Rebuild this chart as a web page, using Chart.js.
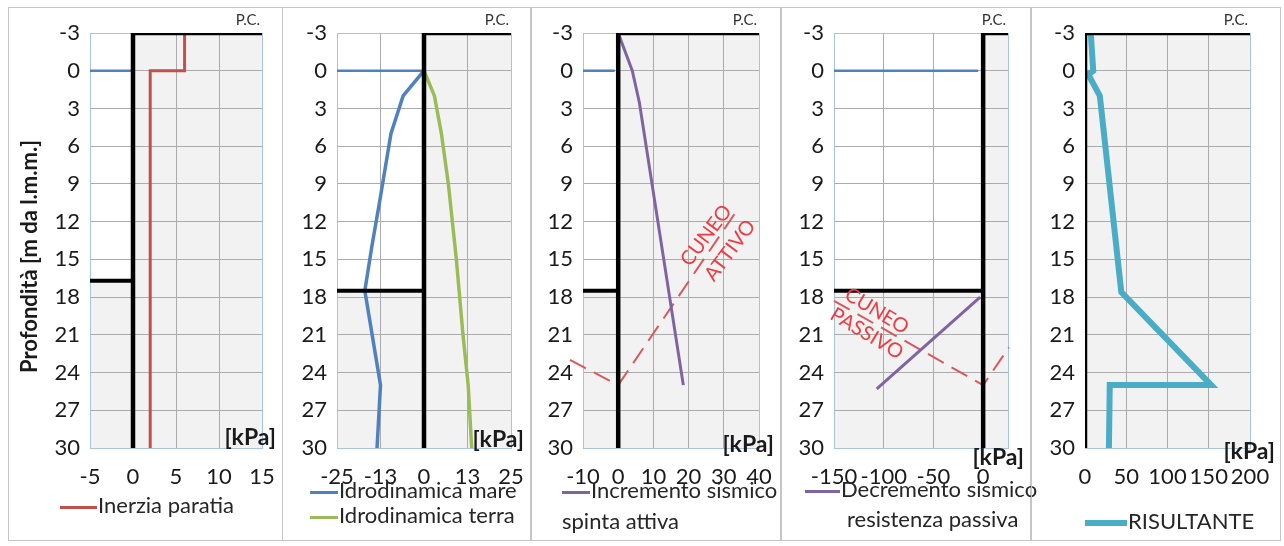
<!DOCTYPE html>
<html>
<head>
<meta charset="utf-8">
<script src="https://cdn.jsdelivr.net/npm/chart.js@4/dist/chart.umd.min.js"></script>
<style>
body { margin: 0; background: #fff; font-family: Lato, sans-serif; }
.pannello { position: absolute; top: 7px; height: 534px; border: 1px solid #c6c6c6; box-sizing: border-box; }
canvas { position: absolute; top: 8px; }
.leg { position: absolute; font-size: 22px; color: #262626; white-space: nowrap; line-height: 1; transform: translateY(-50%); }
.leg span { display: inline-block; vertical-align: middle; margin-right: 1px; }
</style>
</head>
<body>
<div id="pagina"></div>
<script>
// profondita' (asse verticale, invertito)
const quote = [-3, 0, 3, 6, 9, 12, 15, 18, 21, 24, 27, 30];
const quotaPC = -3;
const quotaMare = 0;
const quotaBase = 30;
const fondoScavo = [16.7, 17.5, 17.5, 17.5, null];
const fineMare = [0, 0, -1, -5, null];

// assi orizzontali [kPa]
const xTicks = [
  [-5, 0, 5, 10, 15],
  [-25, -12.5, 0, 12.5, 25],
  [-10, 0, 10, 20, 30, 40],
  [-150, -100, -50, 0, 25],
  [0, 50, 100, 150, 200]
];
const xEtichette = [
  ["-5", "0", "5", "10", "15"],
  ["-25", "-13", "0", "13", "25"],
  ["-10", "0", "10", "20", "30", "40"],
  ["-150", "-100", "-50", "0", ""],
  ["0", "50", "100", "150", "200"]
];

// serie [kPa, m]
const inerziaParatia = [[6, -3], [6, 0], [2, 0], [2, 30]];
const idroMare = [[0, 0], [-6, 2], [-9.5, 5], [-12.5, 10], [-15, 14], [-17, 17.5], [-12.5, 25], [-13.5, 30]];
const idroTerra = [[0, 0], [3, 2], [5, 5], [7, 9], [9.3, 15], [11.2, 21], [12.7, 25], [13.7, 30]];
const incrementoAttiva = [[0, -3], [4, 0], [6, 2.5], [18.5, 25]];
const decrementoPassiva = [[-3, 18], [-107, 25.3]];
const risultante = [[7, -3], [10, 0], [4, 0.3], [18, 2], [44, 17.6], [153, 25], [30, 25], [29, 30]];
const cuneoAttivo = [[-13.7, 23], [0, 25], [34, 11]];
const cuneoPassivo = [[-150, 18.3], [0, 25], [26, 22]];

const etichetteCuneo = [
  { p: 2, testo: "CUNEO", x: 25, y: 13.1 },
  { p: 2, testo: "ATTIVO", x: 31.8, y: 14.3 },
  { p: 3, testo: "CUNEO", x: -107, y: 19.1 },
  { p: 3, testo: "PASSIVO", x: -117, y: 20.9 }
];

const ROSSO = "#c0504d", BLU = "#4f81bd", VERDE = "#9bbb59", VIOLA = "#8064a2", CIANO = "#4bacc6";

// layout dei 5 riquadri
const pannelli = [
  { box: [8, 275], left: 9, width: 272, yW: 81, padR: 19, kpa: -10, angolo: 0 },
  { box: [282, 249], left: 283, width: 246, yW: 54, padR: 18, kpa: -8, angolo: 0 },
  { box: [531, 250], left: 532, width: 247, yW: 51, padR: 20, kpa: -3, angolo: -53 },
  { box: [781, 250], left: 782, width: 247, yW: 52, padR: 21, kpa: 10, angolo: 31 },
  { box: [1031, 250], left: 1032, width: 248, yW: 53, padR: 30, kpa: 4, angolo: 0 }
];

const legende = [
  [{ x: 60, y: 505, w: 37, c: ROSSO, s: 3, t: "Inerzia paratia" }],
  [{ x: 310, y: 490, w: 28, c: BLU, s: 3, t: "Idrodinamica mare" },
   { x: 310, y: 515, w: 28, c: VERDE, s: 3, t: "Idrodinamica terra" }],
  [{ x: 562, y: 490, w: 28, c: VIOLA, s: 3, t: "Incremento sismico" },
   { x: 562, y: 521, w: 0, c: VIOLA, s: 0, t: "spinta attiva" }],
  [{ x: 805, y: 489, w: 35, c: VIOLA, s: 3, t: "Decremento sismico" },
   { x: 847, y: 519, w: 0, c: VIOLA, s: 0, t: "resistenza passiva" }],
  [{ x: 1085, y: 521, w: 42, c: CIANO, s: 6, t: "RISULTANTE" }]
];

const pts = a => a.map(([x, y]) => ({ x: x, y: y }));

function linea(dati, colore, spessore, extra) {
  return Object.assign({ data: pts(dati), showLine: true, borderColor: colore, borderWidth: spessore,
    pointRadius: 0, fill: false, borderJoinStyle: "miter" }, extra || {});
}

const testi = {
  id: "testi",
  afterDraw(chart, args, opt) {
    const ctx = chart.ctx, a = chart.chartArea;
    ctx.save();
    ctx.fillStyle = "#333";
    ctx.font = "15px Lato";
    ctx.textAlign = "right";
    ctx.textBaseline = "alphabetic";
    ctx.fillText("P.C.", a.right - 2, a.top - 8);
    ctx.fillStyle = "#1a1a1a";
    ctx.font = "bold 23px Lato";
    ctx.textBaseline = "middle";
    ctx.fillText("[kPa]", chart.width - 5, a.bottom + opt.kpa);
    if (opt.indice === 0) {
      ctx.save();
      ctx.font = "bold 22px Lato";
      ctx.translate(a.left - 60, (a.top + a.bottom) / 2 + 16);
      ctx.rotate(-Math.PI / 2);
      ctx.textAlign = "center";
      ctx.fillText("Profondità [m da l.m.m.]", 0, 0);
      ctx.restore();
    }
    ctx.fillStyle = "#ee3a43";
    ctx.font = "20px Lato";
    ctx.textAlign = "center";
    etichetteCuneo.filter(e => e.p === opt.indice).forEach(e => {
      ctx.save();
      ctx.translate(chart.scales.x.getPixelForValue(e.x), chart.scales.y.getPixelForValue(e.y));
      ctx.rotate(opt.angolo * Math.PI / 180);
      ctx.fillText(e.testo, 0, 0);
      ctx.restore();
    });
    ctx.restore();
  }
};

const pagina = document.getElementById("pagina");

pannelli.forEach((p, i) => {
  const box = document.createElement("div");
  box.className = "pannello";
  box.style.left = p.box[0] + "px";
  box.style.width = p.box[1] + "px";
  pagina.appendChild(box);

  const cv = document.createElement("canvas");
  cv.width = p.width;
  cv.height = 492;
  cv.style.left = p.left + "px";
  pagina.appendChild(cv);

  legende[i].forEach(l => {
    const d = document.createElement("div");
    d.className = "leg";
    d.style.left = l.x + "px";
    d.style.top = l.y + "px";
    if (l.w > 0) {
      const s = document.createElement("span");
      s.style.width = l.w + "px";
      s.style.height = l.s + "px";
      s.style.background = l.c;
      d.appendChild(s);
    }
    d.appendChild(document.createTextNode(l.t));
    pagina.appendChild(d);
  });

  const xt = xTicks[i];
  const xMin = xt[0], xMax = xt[xt.length - 1];
  const f = fondoScavo[i];

  const ds = [];
  ds.push(linea([[xMax, quotaPC], [0, quotaPC], [0, quotaBase]], "#000", 4.5));
  if (f !== null) ds.push(linea([[xMin, f], [0, f]], "#000", 4));
  if (i === 0) ds.push(linea(inerziaParatia, ROSSO, 3));
  if (i === 1) {
    ds.push(linea(idroMare, BLU, 3.5));
    ds.push(linea(idroTerra, VERDE, 3.5));
  }
  if (i === 2) {
    ds.push(linea(incrementoAttiva, VIOLA, 3));
    ds.push(linea(cuneoAttivo, "#d65a5c", 2, { borderDash: [18, 9], clip: false }));
  }
  if (i === 3) {
    ds.push(linea(decrementoPassiva, VIOLA, 3));
    ds.push(linea(cuneoPassivo, "#d65a5c", 2, { borderDash: [18, 9], clip: false }));
  }
  if (i === 4) ds.push(linea(risultante, CIANO, 6));
  if (fineMare[i] !== null) ds.push(linea([[xMin, quotaMare], [fineMare[i], quotaMare]], BLU, 2.5));
  // terreno (campitura grigia)
  ds.push(linea([[0, quotaPC], [xMax, quotaPC]], "transparent", 0,
    { fill: { value: quotaBase }, backgroundColor: "rgba(0,0,0,0.05)" }));
  if (f !== null) ds.push(linea([[xMin, f], [0, f]], "transparent", 0,
    { fill: { value: quotaBase }, backgroundColor: "rgba(0,0,0,0.05)" }));

  const bordo = "#a8c2e2", griglia = "#ababab";
  const font = { family: "Lato", size: 22 };

  new Chart(cv.getContext("2d"), {
    type: "scatter",
    data: { datasets: ds },
    options: {
      responsive: false,
      animation: false,
      devicePixelRatio: 1,
      layout: { padding: { top: 25, right: p.padR, left: 0, bottom: 0 } },
      plugins: {
        legend: { display: false },
        tooltip: { enabled: false },
        filler: { drawTime: "beforeDraw" },
        testi: { indice: i, kpa: p.kpa, angolo: p.angolo }
      },
      scales: {
        x: {
          type: "linear", min: xMin, max: xMax,
          afterBuildTicks: s => { s.ticks = xt.map(v => ({ value: v })); },
          afterFit: s => { s.height = 52; },
          grid: { drawTicks: true, tickLength: 15, tickColor: "transparent",
            color: c => (c.tick && (c.tick.value === xMin || c.tick.value === xMax)) ? bordo : griglia },
          border: { color: bordo },
          ticks: { padding: 1, maxRotation: 0, minRotation: 0, autoSkip: false, color: "#1a1a1a", font: font,
            callback: (v, k) => xEtichette[i][k] }
        },
        y: {
          type: "linear", reverse: true, min: quotaPC, max: quotaBase,
          afterBuildTicks: s => { s.ticks = quote.map(v => ({ value: v })); },
          afterFit: s => { s.width = p.yW; },
          grid: { drawTicks: false, color: c => (c.tick && (c.tick.value === quotaPC || c.tick.value === quotaBase)) ? bordo : griglia },
          border: { color: bordo },
          ticks: { padding: 10, autoSkip: false, color: "#1a1a1a", font: font }
        }
      }
    },
    plugins: [testi]
  });
});
</script>
</body>
</html>
